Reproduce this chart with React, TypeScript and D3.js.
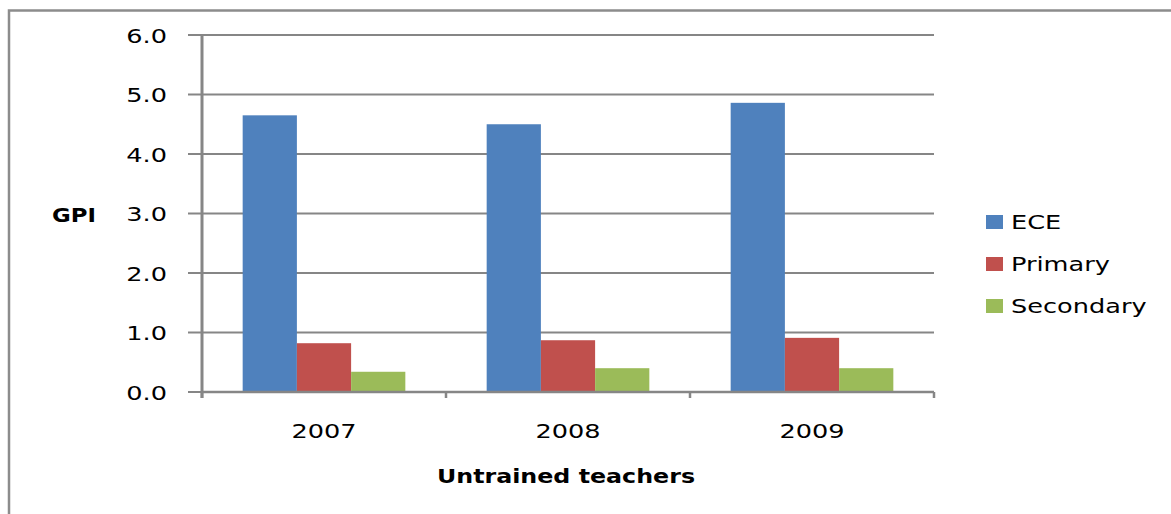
import React from 'react';
import * as d3 from 'd3';

const WIDTH = 1171;
const HEIGHT = 514;

const years = ['2007', '2008', '2009'];
const seriesNames = ['ECE', 'Primary', 'Secondary'];
const eceValues = [4.65, 4.5, 4.86];
const primaryValues = [0.82, 0.87, 0.91];
const secondaryValues = [0.34, 0.4, 0.4];
const yTicks = [0, 1, 2, 3, 4, 5, 6];

const COLORS = ['#4f81bd', '#c0504d', '#9bbb59'];
const AXIS_GRAY = '#868686';
const FONT = '"DejaVu Sans", Verdana, sans-serif';
const STRETCH = 1.28;

const margin = {top: 35, right: 237, bottom: 122, left: 202};
const chartWidth = WIDTH - margin.left - margin.right;
const chartHeight = HEIGHT - margin.top - margin.bottom;

// horizontally stretched text, like the original export
const Label = ({x, y, anchor = 'start', bold = false, size = 20, stretch = STRETCH, children}: {
    x: number; y: number; anchor?: string; bold?: boolean; size?: number; stretch?: number; children: React.ReactNode;
}) => (
    <text
        transform={`translate(${x},${y}) scale(${stretch},1)`}
        textAnchor={anchor}
        fontFamily={FONT}
        fontSize={size}
        fontWeight={bold ? 'bold' : 'normal'}
        fill="#000"
    >
        {children}
    </text>
);

export default function App() {
    const series = [eceValues, primaryValues, secondaryValues];

    const xScale = d3.scaleBand<string>()
        .domain(years)
        .range([0, chartWidth]);

    const barWidth = xScale.bandwidth() / (3 + 1.5);
    const xInner = d3.scaleBand<string>()
        .domain(seriesNames)
        .range([barWidth * 0.75, xScale.bandwidth() - barWidth * 0.75]);

    const yScale = d3.scaleLinear()
        .domain([0, 6])
        .range([chartHeight, 0]);

    const boundaries = [...years.map(y => xScale(y) ?? 0), chartWidth];

    return (
        <svg width={WIDTH} height={HEIGHT} style={{position: 'absolute', left: 0, top: 0, background: '#fff'}}>
            {/* outer frame */}
            <path d={`M9,${HEIGHT} V10.5 H${WIDTH}`} fill="none" stroke="#8c8c8c" strokeWidth={2.5}/>

            <g transform={`translate(${margin.left},${margin.top})`}>
                {/* gridlines + y ticks */}
                {yTicks.map(t => (
                    <g key={t}>
                        <line x1={-14} x2={chartWidth} y1={yScale(t)} y2={yScale(t)} stroke={AXIS_GRAY} strokeWidth={2}/>
                        <Label x={-35} y={yScale(t) + 7.5} anchor="end">{t.toFixed(1)}</Label>
                    </g>
                ))}

                {/* bars */}
                {years.map((yr, i) => (
                    <g key={yr} transform={`translate(${xScale(yr)},0)`}>
                        {seriesNames.map((name, s) => (
                            <rect
                                key={name}
                                x={xInner(name)}
                                y={yScale(series[s][i])}
                                width={xInner.bandwidth()}
                                height={chartHeight - yScale(series[s][i])}
                                fill={COLORS[s]}
                            />
                        ))}
                    </g>
                ))}

                {/* axes */}
                <line x1={0} x2={0} y1={0} y2={chartHeight + 6} stroke={AXIS_GRAY} strokeWidth={3}/>
                <line x1={0} x2={chartWidth} y1={chartHeight} y2={chartHeight} stroke={AXIS_GRAY} strokeWidth={2.5}/>
                {boundaries.map((b, i) => (
                    <line key={i} x1={b} x2={b} y1={chartHeight} y2={chartHeight + 6} stroke={AXIS_GRAY} strokeWidth={2.5}/>
                ))}
                {years.map(yr => (
                    <Label key={yr} x={(xScale(yr) ?? 0) + xScale.bandwidth() / 2} y={chartHeight + 46} anchor="middle">{yr}</Label>
                ))}
            </g>

            {/* axis titles */}
            <Label x={52} y={222} bold size={19} stretch={1.2}>GPI</Label>
            <Label x={566} y={483} anchor="middle" bold size={19} stretch={1.25}>Untrained teachers</Label>

            {/* legend */}
            {seriesNames.map((name, s) => (
                <g key={name} transform={`translate(986,${215 + s * 42})`}>
                    <rect x={0} y={0} width={17} height={14} fill={COLORS[s]}/>
                    <Label x={25} y={14}>{name}</Label>
                </g>
            ))}
        </svg>
    );
}
